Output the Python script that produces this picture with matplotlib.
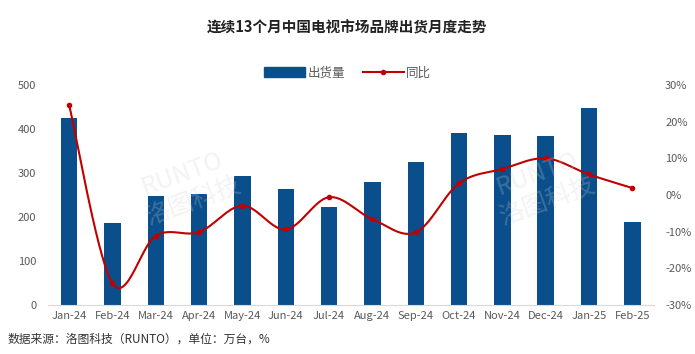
import numpy as np
import matplotlib
matplotlib.use("Agg")
import matplotlib.pyplot as plt
from matplotlib.lines import Line2D
from matplotlib.patches import Patch

plt.rcParams['font.family'] = ['Noto Sans CJK SC', 'DejaVu Sans']

months = ["Jan-24", "Feb-24", "Mar-24", "Apr-24", "May-24", "Jun-24", "Jul-24",
          "Aug-24", "Sep-24", "Oct-24", "Nov-24", "Dec-24", "Jan-25", "Feb-25"]
shipments = [425, 186, 248, 252, 294, 264, 222, 280, 324, 390, 387, 383, 447, 189]
yoy = [24.5, -24.1, -11.1, -10.1, -2.9, -9.4, -0.6, -6.6, -10.2, 3.2, 7.1, 10.0, 5.6, 1.9]
left_ticks = [0, 100, 200, 300, 400, 500]
right_ticks = [-30, -20, -10, 0, 10, 20, 30]

title = "连续13个月中国电视市场品牌出货月度走势"
source = "数据来源：洛图科技（RUNTO），单位：万台，%"

bar_color = "#0A4F8C"
line_color = "#C00000"
text_color = "#595959"

fig = plt.figure(figsize=(6.95, 3.54), dpi=100)
ax = fig.add_axes([47.5/695, 1-305/354, (654-47.5)/695, 220/354])
x = np.arange(len(months))
ax.bar(x, shipments, width=0.38, color=bar_color, label="出货量", zorder=2)
ax.set_xlim(-0.5, len(months)-0.5)
ax.set_ylim(0, 500)
ax.set_yticks(left_ticks)
ax.set_xticks(x)
ax.set_xticklabels(months)
ax.tick_params(axis='both', length=0, labelsize=8, colors=text_color, pad=4)
ax.tick_params(axis='y', pad=8)
for s in ['top', 'right', 'left']:
    ax.spines[s].set_visible(False)
ax.spines['bottom'].set_color('#D9D9D9')

ax2 = ax.twinx()
ax2.set_ylim(-30, 30)
ax2.set_yticks(right_ticks)
ax2.set_yticklabels([f"{v}%" for v in right_ticks])
ax2.tick_params(axis='y', length=0, labelsize=8, colors=text_color, pad=8)
for s in ['top', 'right', 'left', 'bottom']:
    ax2.spines[s].set_visible(False)

# Smoothed line (Catmull-Rom through data points)
xs = x.astype(float)
ys = np.array(yoy, dtype=float)
P = np.column_stack([xs, ys])
Pext = np.vstack([P[0], P, P[-1]])
curve = []
for i in range(1, len(Pext)-2):
    p0, p1, p2, p3 = Pext[i-1], Pext[i], Pext[i+1], Pext[i+2]
    t = np.linspace(0, 1, 30)[:, None]
    seg = 0.5*((2*p1) + (-p0+p2)*t + (2*p0-5*p1+4*p2-p3)*t**2 + (-p0+3*p1-3*p2+p3)*t**3)
    curve.append(seg)
curve = np.vstack(curve)
ax2.plot(curve[:, 0], curve[:, 1], color=line_color, lw=1.5, zorder=3)
ax2.plot(xs, ys, 'o', color=line_color, ms=3, zorder=4)

# Legend
handles = [Patch(color=bar_color, label="出货量"),
           Line2D([0], [0], color=line_color, lw=1.5, marker='o', ms=3, label="同比")]
fig.legend(handles=handles, loc='center', bbox_to_anchor=(0.5, 1-73/354), ncol=2,
           frameon=False, fontsize=9, handlelength=3.3, handleheight=0.9,
           columnspacing=1.4, handletextpad=0.2, labelcolor=text_color)

fig.text(0.5, 1-28/354, title, ha='center', va='center', fontsize=10.5,
         fontweight='bold', color='#222222')
fig.text(8/695, 1-339/354, source, ha='left', va='center', fontsize=8.5, color='#333333')

# Faint watermarks
for wx, wy in [(0.27, 0.47), (0.78, 0.47)]:
    fig.text(wx, wy, "RUNTO\n洛图科技", ha='center', va='center', fontsize=18,
             color='#d0d0d0', alpha=0.25, rotation=20, style='italic', zorder=5)

fig.savefig("out.png", dpi=100, facecolor='white')
